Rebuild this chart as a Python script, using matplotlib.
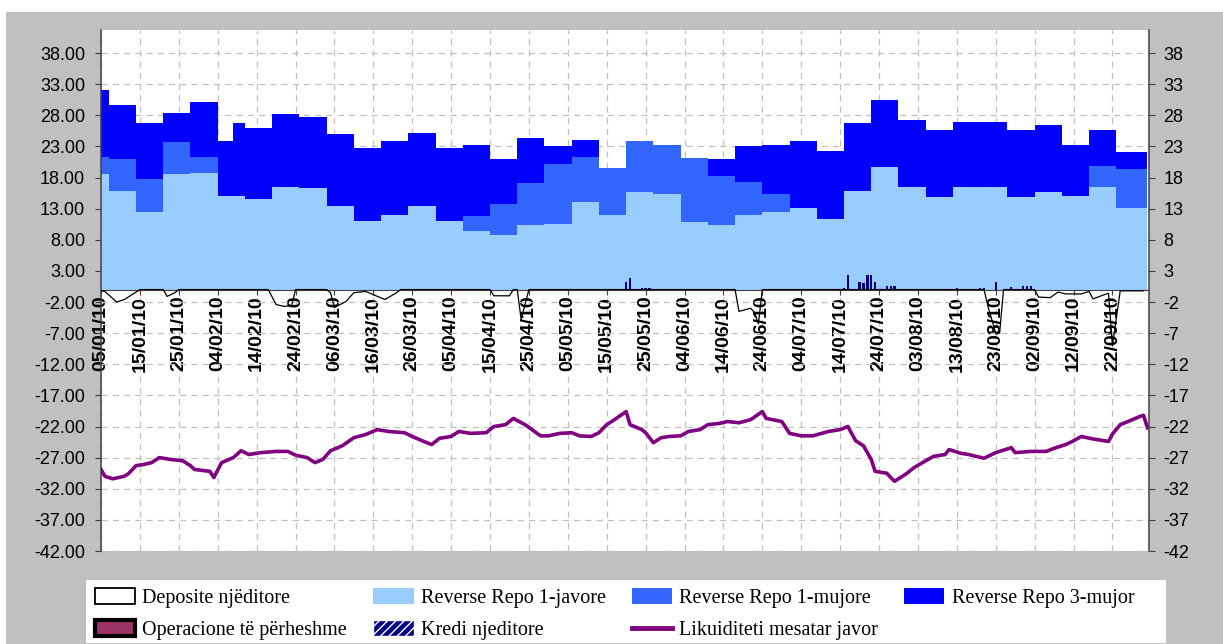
import numpy as np
import matplotlib
matplotlib.use("Agg")
import matplotlib.pyplot as plt
import matplotlib.dates as mdates
from matplotlib.patches import Patch, Rectangle
from matplotlib.lines import Line2D

plt.rcParams['font.family'] = ['Liberation Sans', 'DejaVu Sans']

# weekly reverse repo stock (start date of each level), bn ALL
repo_dates = ['2010-01-05', '2010-01-07', '2010-01-14', '2010-01-21', '2010-01-28',
              '2010-02-04', '2010-02-08', '2010-02-11', '2010-02-18', '2010-02-25',
              '2010-03-04', '2010-03-11', '2010-03-18', '2010-03-25', '2010-04-01',
              '2010-04-08', '2010-04-15', '2010-04-22', '2010-04-29', '2010-05-06',
              '2010-05-13', '2010-05-20', '2010-05-27', '2010-06-03', '2010-06-10',
              '2010-06-17', '2010-06-24', '2010-07-01', '2010-07-08', '2010-07-15',
              '2010-07-22', '2010-07-29', '2010-08-05', '2010-08-12', '2010-08-26',
              '2010-09-02', '2010-09-09', '2010-09-16', '2010-09-23', '2010-10-01']
repo_1w = [18.6, 15.9, 12.5, 18.5, 18.7, 15.1, 15.1, 14.6, 16.4, 16.3,
           13.4, 11.0, 12.0, 13.5, 11.0, 9.4, 8.8, 10.3, 10.5, 14.1,
           11.9, 15.7, 15.4, 10.8, 10.3, 12.0, 12.5, 13.1, 11.4, 15.8,
           19.7, 16.5, 14.9, 16.5, 14.8, 15.7, 15.1, 16.5, 13.1, 12.5]
repo_1m = [2.7, 5.1, 5.2, 5.2, 2.6, 0, 0, 0, 0, 0,
           0, 0, 0, 0, 0, 2.4, 5.0, 6.9, 9.6, 7.2,
           7.6, 8.1, 7.8, 10.4, 7.9, 5.3, 2.9, 0, 0, 0,
           0, 0, 0, 0, 0, 0, 0, 3.3, 6.3, 6.8]
repo_3m = [10.8, 8.7, 9.1, 4.7, 8.9, 8.7, 11.7, 11.3, 11.8, 11.5,
           11.6, 11.8, 11.8, 11.6, 11.8, 11.4, 7.2, 7.2, 2.9, 2.8,
           0, 0, 0, 0, 2.8, 5.7, 7.8, 10.7, 10.8, 11.0,
           10.7, 10.8, 10.7, 10.5, 10.8, 10.8, 8.2, 5.8, 2.7, 2.5]

# overnight deposits (negative)
dep_dates = ['2010-01-05', '2010-01-06', '2010-01-09', '2010-01-11', '2010-01-13', '2010-01-14',
             '2010-01-15', '2010-01-21', '2010-01-22', '2010-01-24', '2010-01-25', '2010-02-17',
             '2010-02-19', '2010-02-21', '2010-02-23', '2010-02-24', '2010-03-04', '2010-03-05',
             '2010-03-06', '2010-03-09', '2010-03-11', '2010-03-14', '2010-03-19', '2010-03-22',
             '2010-03-23', '2010-04-15', '2010-04-16', '2010-04-20', '2010-04-21', '2010-04-22',
             '2010-04-23', '2010-04-25', '2010-06-17', '2010-06-18', '2010-06-21', '2010-06-22',
             '2010-06-23', '2010-06-24', '2010-08-20', '2010-08-21', '2010-08-23', '2010-08-24',
             '2010-08-25', '2010-09-02', '2010-09-03', '2010-09-06', '2010-09-08', '2010-09-10',
             '2010-09-14', '2010-09-16', '2010-09-17', '2010-09-20', '2010-09-21', '2010-09-22',
             '2010-09-24', '2010-09-30']
dep_vals = [-0.2, -0.3, -2.0, -1.6, -0.8, -0.4,
            0.0, 0.0, -1.1, -0.5, 0.0, 0.0,
            -2.4, -2.7, -2.6, 0.0, 0.0, -0.5,
            -2.9, -1.9, -0.5, -0.3, -1.6, -0.5,
            0.0, 0.0, -1.0, -1.0, 0.0, 0.0,
            -4.8, 0.0, 0.0, -3.5, -3.0, -3.7,
            -5.5, 0.0, 0.0, -2.7, -7.0, -7.0,
            0.0, 0.0, -1.2, -1.3, -0.4, -0.7,
            -0.7, -0.3, -1.5, -0.8, -0.6, -9.0,
            -0.2, -0.2]

# overnight credit
kredi_dates = ['2010-05-20', '2010-05-21', '2010-05-24', '2010-05-25', '2010-05-26',
               '2010-07-15', '2010-07-16', '2010-07-19', '2010-07-20', '2010-07-21',
               '2010-07-22', '2010-07-23', '2010-07-26', '2010-07-27', '2010-07-28',
               '2010-08-13', '2010-08-19', '2010-08-20', '2010-08-23', '2010-08-27',
               '2010-08-30', '2010-08-31', '2010-09-01']
kredi_vals = [1.2, 1.8, 0.3, 0.3, 0.3,
              0.3, 2.3, 1.2, 1.0, 2.3,
              2.3, 1.2, 0.5, 0.5, 0.5,
              0.3, 0.3, 0.3, 1.2, 0.4,
              0.5, 0.5, 0.5]

# weekly average liquidity
liq_dates = ['2010-01-05', '2010-01-06', '2010-01-08', '2010-01-11', '2010-01-12', '2010-01-14',
             '2010-01-16', '2010-01-18', '2010-01-20', '2010-01-23', '2010-01-26', '2010-01-28',
             '2010-01-29', '2010-02-02', '2010-02-03', '2010-02-05', '2010-02-08', '2010-02-10',
             '2010-02-12', '2010-02-15', '2010-02-19', '2010-02-22', '2010-02-24', '2010-02-27',
             '2010-03-01', '2010-03-03', '2010-03-05', '2010-03-08', '2010-03-11', '2010-03-14',
             '2010-03-17', '2010-03-20', '2010-03-24', '2010-03-26', '2010-03-29', '2010-03-31',
             '2010-04-02', '2010-04-05', '2010-04-07', '2010-04-10', '2010-04-14', '2010-04-16',
             '2010-04-19', '2010-04-21', '2010-04-24', '2010-04-28', '2010-04-30', '2010-05-03',
             '2010-05-06', '2010-05-08', '2010-05-11', '2010-05-13', '2010-05-15', '2010-05-17',
             '2010-05-20', '2010-05-21', '2010-05-24', '2010-05-25', '2010-05-27', '2010-05-29',
             '2010-05-31', '2010-06-03', '2010-06-05', '2010-06-08', '2010-06-10', '2010-06-13',
             '2010-06-15', '2010-06-18', '2010-06-21', '2010-06-24', '2010-06-25', '2010-06-29',
             '2010-07-01', '2010-07-04', '2010-07-07', '2010-07-11', '2010-07-14', '2010-07-16',
             '2010-07-18', '2010-07-20', '2010-07-22', '2010-07-23', '2010-07-26', '2010-07-27',
             '2010-07-28', '2010-07-31', '2010-08-02', '2010-08-05', '2010-08-07', '2010-08-10',
             '2010-08-11', '2010-08-14', '2010-08-16', '2010-08-20', '2010-08-23', '2010-08-27',
             '2010-08-28', '2010-09-01', '2010-09-05', '2010-09-07', '2010-09-10', '2010-09-12',
             '2010-09-14', '2010-09-17', '2010-09-21', '2010-09-22', '2010-09-24', '2010-09-26',
             '2010-09-29', '2010-09-30', '2010-10-01']
liq_vals = [-28.9, -30.0, -30.4, -30.0, -29.6, -28.3, -28.1, -27.8, -27.0, -27.3,
            -27.5, -28.3, -28.9, -29.2, -30.2, -27.8, -27.0, -25.9, -26.5, -26.2,
            -26.0, -26.0, -26.6, -27.0, -27.8, -27.3, -25.9, -25.1, -23.8, -23.3,
            -22.5, -22.8, -23.0, -23.6, -24.4, -24.9, -23.9, -23.6, -22.8, -23.1,
            -23.0, -22.0, -21.7, -20.7, -21.7, -23.5, -23.5, -23.1, -23.0, -23.5,
            -23.6, -23.0, -21.7, -20.9, -19.6, -21.7, -22.5, -23.0, -24.6, -23.8,
            -23.6, -23.5, -22.8, -22.5, -21.7, -21.5, -21.2, -21.4, -20.9, -19.6,
            -20.7, -21.2, -23.1, -23.5, -23.5, -22.8, -22.5, -22.0, -24.3, -25.1,
            -27.3, -29.2, -29.5, -30.2, -30.8, -29.6, -28.6, -27.5, -26.8, -26.5,
            -25.7, -26.3, -26.5, -27.1, -26.2, -25.4, -26.2, -26.0, -26.0, -25.5,
            -24.9, -24.3, -23.6, -24.0, -24.4, -23.2, -21.7, -21.2, -20.4, -20.2,
            -22.2]

legend_labels = ['Deposite njëditore', 'Operacione të përheshme',
                 'Reverse Repo 1-javore', 'Kredi njeditore',
                 'Reverse Repo 1-mujore', 'Likuiditeti mesatar javor',
                 'Reverse Repo 3-mujor']

W, H = 1223, 644
fig = plt.figure(figsize=(W / 100, H / 100), dpi=100)
fig.patch.set_facecolor('white')
fig.patches.append(Rectangle((6 / W, 0), 1 - 6 / W, 1 - 12 / H, transform=fig.transFigure,
                             facecolor='#C0C0C0', edgecolor='none', zorder=-10))
fig.patches.append(Rectangle((86 / W, 1 / H), (1166 - 86) / W, (643 - 580) / H,
                             transform=fig.transFigure, facecolor='white',
                             edgecolor='none', zorder=-9))

ax = fig.add_axes([101 / W, 1 - 551 / H, (1149 - 101) / W, (551 - 30) / H])
ax2 = ax.twinx()

d = np.array(repo_dates, dtype='datetime64[D]')
lvl1 = np.array(repo_1w)
lvl2 = lvl1 + np.array(repo_1m)
lvl3 = lvl2 + np.array(repo_3m)
ax.fill_between(d, 0, lvl1, step='post', color='#99CCFF', lw=0, zorder=2)
ax.fill_between(d, lvl1, lvl2, step='post', color='#3366FF', lw=0, zorder=2)
ax.fill_between(d, lvl2, lvl3, step='post', color='#0000FF', lw=0, zorder=2)

ax.bar(np.array(kredi_dates, dtype='datetime64[D]'), kredi_vals, width=0.6,
       color='#000080', zorder=3)
ax.plot(np.array(dep_dates, dtype='datetime64[D]'), dep_vals, color='black', lw=0.9, zorder=4)
ax.plot(np.array(liq_dates, dtype='datetime64[D]'), liq_vals, color='#800080', lw=2.6, zorder=5)

t0 = np.datetime64('2010-01-05')
start = mdates.date2num(t0)
ax.set_xlim(start, start + 269.4)
ax.set_ylim(-42, 41.7)
ax2.set_ylim(-42, 41.7)

ax.grid(True, linestyle=(0, (5, 4)), color='#C0C0C0', linewidth=0.9)
ax.set_axisbelow(True)
for s in ['top', 'right']:
    ax.spines[s].set_visible(False)
for s in ['top', 'bottom', 'left']:
    ax2.spines[s].set_visible(False)
ax.spines['bottom'].set_position(('data', 0))
ax.spines['bottom'].set_color('#404040')
ax.spines['left'].set_color('#404040')
ax.spines['left'].set_linewidth(1.1)
ax2.spines['right'].set_color('#404040')
ax2.spines['right'].set_linewidth(1.1)
ax.tick_params(axis='x', direction='inout', length=7, pad=1, color='#404040')
ax.tick_params(axis='y', direction='out', length=4.5, pad=7, color='#404040')
ax2.tick_params(axis='y', direction='out', length=4.5, pad=6, color='#404040')

yt = np.arange(-42, 39, 5)
ax.set_yticks(yt)
ax.set_yticklabels([f'{v:.2f}' for v in yt], fontsize=13)
ax2.set_yticks(yt)
ax2.set_yticklabels([f'{v:d}' for v in yt], fontsize=13)

tick_days = t0 + np.arange(27) * 10
ax.set_xticks(mdates.date2num(tick_days))
ax.set_xticklabels([t.astype(object).strftime('%d/%m/%y') for t in tick_days],
                   rotation=90, fontweight='bold', fontsize=14)

handles = [Patch(facecolor='white', edgecolor='black', linewidth=1.3),
           Patch(facecolor='#993366', edgecolor='black', linewidth=3),
           Patch(facecolor='#99CCFF', edgecolor='none'),
           Patch(facecolor='#000080', edgecolor='white', hatch='////'),
           Patch(facecolor='#3366FF', edgecolor='none'),
           Line2D([0], [0], color='#800080', lw=3.5),
           Patch(facecolor='#0000FF', edgecolor='none')]
fig.legend(handles, legend_labels, ncol=4, loc='upper left',
           bbox_to_anchor=(85 / W, 1 - 578 / H), frameon=False, borderpad=0,
           prop={'family': 'Liberation Serif', 'size': 14.5},
           handlelength=2.0, handleheight=0.85, handletextpad=0.35,
           columnspacing=1.3, labelspacing=0.6)

fig.savefig('out.png', dpi=100)
